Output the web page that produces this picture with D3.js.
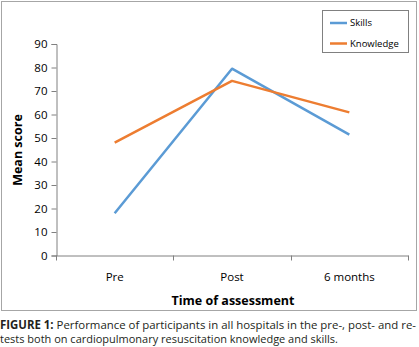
<!DOCTYPE html>
<html>
<head>
<meta charset="utf-8">
<script src="https://cdn.jsdelivr.net/npm/d3@7"></script>
<style>
  body { margin: 0; background: #fff; }
  svg { display: block; }
</style>
</head>
<body>
<div id="chart"></div>
<script>
const categories = ['Pre', 'Post', '6 months'];
const skills = [18, 79.5, 51.4];
const knowledge = [48, 74.3, 60.9];
const yTicks = [0, 10, 20, 30, 40, 50, 60, 70, 80, 90];
const seriesNames = ['Skills', 'Knowledge'];

const W = 419, H = 347;
const font = "'Open Sans', 'Liberation Sans', sans-serif";
const colors = { Skills: '#5b9bd5', Knowledge: '#ed7d31' };

const svg = d3.select('#chart').append('svg')
    .attr('width', W)
    .attr('height', H);

// outer frame
svg.append('rect')
    .attr('x', 1.5).attr('y', 1.5)
    .attr('width', 415).attr('height', 309)
    .attr('fill', 'none')
    .attr('stroke', '#a6a6a6')
    .attr('stroke-width', 1);

const x = d3.scaleBand()
    .domain(categories)
    .range([56, 408]);

const y = d3.scaleLinear()
    .domain([0, 90])
    .range([255.5, 44]);

// y axis
const gy = svg.append('g')
    .attr('transform', 'translate(56.5,0)')
    .call(d3.axisLeft(y).tickValues(yTicks).tickSize(5).tickPadding(4));
gy.select('.domain').attr('stroke', '#808080');
gy.selectAll('.tick line').attr('stroke', '#808080');
gy.selectAll('.tick text')
    .attr('font-family', font)
    .attr('font-size', 11.5)
    .attr('fill', '#000');

// x axis
const gx = svg.append('g')
    .attr('transform', 'translate(0,255.5)')
    .call(d3.axisBottom(x).tickSize(0).tickPadding(17));
gx.select('.domain').attr('stroke', '#808080');
gx.selectAll('.tick text')
    .attr('font-family', font)
    .attr('font-size', 11.5)
    .attr('fill', '#000');

// tick marks between categories
const edges = [0, 1, 2].map(i => x(categories[i])).concat([x(categories[2]) + x.bandwidth()]);
svg.selectAll('.xtick')
    .data(edges)
    .enter().append('line')
    .attr('x1', d => Math.round(d) + 0.5)
    .attr('x2', d => Math.round(d) + 0.5)
    .attr('y1', 255.5)
    .attr('y2', 260.5)
    .attr('stroke', '#808080');

// axis titles
svg.append('text')
    .attr('x', 233)
    .attr('y', 305)
    .attr('text-anchor', 'middle')
    .attr('font-family', font)
    .attr('font-weight', 'bold')
    .attr('font-size', 12.5)
    .text('Time of assessment');

svg.append('text')
    .attr('transform', 'translate(22,150) rotate(-90)')
    .attr('text-anchor', 'middle')
    .attr('font-family', font)
    .attr('font-weight', 'bold')
    .attr('font-size', 12.5)
    .text('Mean score');

// lines
const line = d3.line()
    .x((d, i) => x(categories[i]) + x.bandwidth() / 2)
    .y(d => y(d));

const series = [
    { name: 'Skills', values: skills },
    { name: 'Knowledge', values: knowledge }
];

svg.selectAll('.series')
    .data(series)
    .enter().append('path')
    .attr('class', 'series')
    .attr('d', d => line(d.values))
    .attr('fill', 'none')
    .attr('stroke', d => colors[d.name])
    .attr('stroke-width', 2.5)
    .attr('stroke-linejoin', 'round');

// legend
const legend = svg.append('g');
legend.append('rect')
    .attr('x', 322.5).attr('y', 10.5)
    .attr('width', 86).attr('height', 42)
    .attr('fill', '#fff')
    .attr('stroke', '#808080');

const items = legend.selectAll('.item')
    .data(seriesNames)
    .enter().append('g')
    .attr('transform', (d, i) => `translate(330,${23 + i * 20.5})`);
items.append('line')
    .attr('x1', 0).attr('x2', 17)
    .attr('stroke', d => colors[d])
    .attr('stroke-width', 2.5);
items.append('text')
    .attr('x', 20)
    .attr('dy', '0.35em')
    .attr('font-family', font)
    .attr('font-size', 9.5)
    .text(d => d);

// caption
const cap1 = svg.append('text')
    .attr('x', 0).attr('y', 328.5)
    .attr('font-family', font)
    .attr('font-size', 11.5)
    .attr('fill', '#231f20')
    .attr('textLength', 416)
    .attr('lengthAdjust', 'spacingAndGlyphs');
cap1.append('tspan').attr('font-weight', 'bold').text('FIGURE 1: ');
cap1.append('tspan').text('Performance of participants in all hospitals in the pre-, post- and re-');

svg.append('text')
    .attr('x', 0).attr('y', 342.5)
    .attr('font-family', font)
    .attr('font-size', 11.5)
    .attr('fill', '#231f20')
    .attr('textLength', 338)
    .attr('lengthAdjust', 'spacingAndGlyphs')
    .text('tests both on cardiopulmonary resuscitation knowledge and skills.');
</script>
</body>
</html>
